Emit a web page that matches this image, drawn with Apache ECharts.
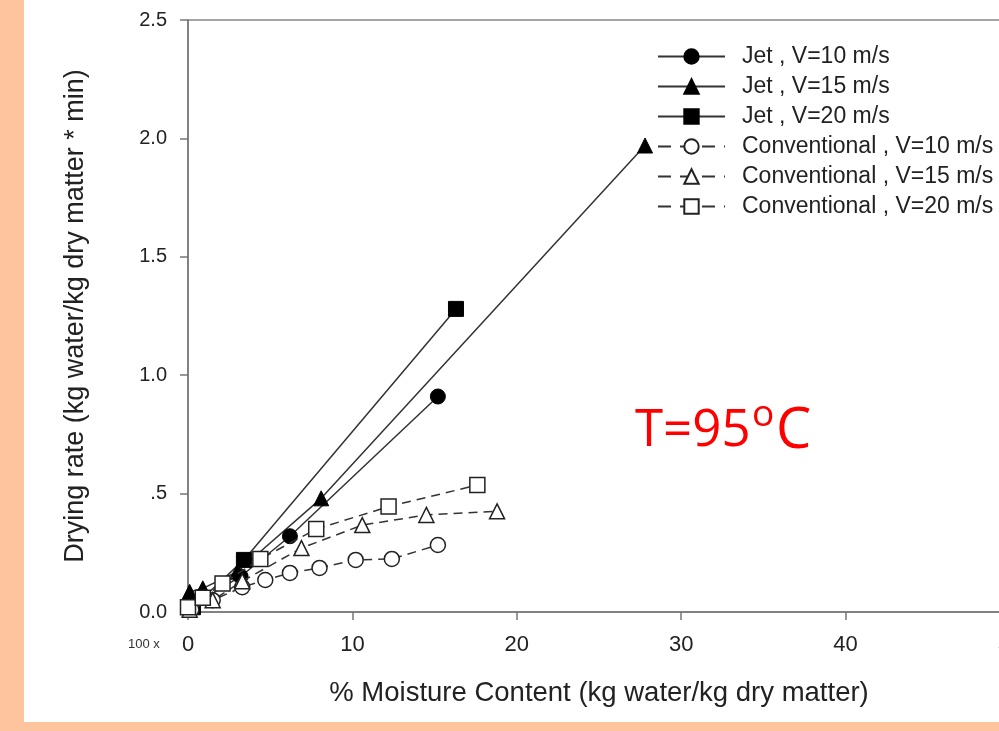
<!DOCTYPE html>
<html>
<head>
<meta charset="utf-8">
<script src="https://cdn.jsdelivr.net/npm/echarts@6/dist/echarts.min.js"></script>
<style>
html,body{margin:0;padding:0;background:#FDC49D;}
#main{width:999px;height:731px;}
</style>
</head>
<body>
<div id="main"></div>
<script>
// ---- data (x: % moisture content, y: drying rate) ----
var seriesNames = [
  'Jet , V=10 m/s',
  'Jet , V=15 m/s',
  'Jet , V=20 m/s',
  'Conventional , V=10 m/s',
  'Conventional , V=15 m/s',
  'Conventional , V=20 m/s'
];
var jet10 = [[0.1, 0.02], [3.2, 0.15], [6.2, 0.32], [15.2, 0.91]];
var jet15 = [[0.1, 0.085], [0.9, 0.10], [3.0, 0.17], [8.1, 0.48], [27.8, 1.97]];
var jet20 = [[0.3, 0.02], [3.4, 0.22], [16.3, 1.28]];
var conv10 = [[0.2, 0.01], [1.5, 0.05], [3.3, 0.105], [4.7, 0.135], [6.2, 0.165], [8.0, 0.186], [10.2, 0.22], [12.4, 0.224], [15.2, 0.283]];
var conv15 = [[0.1, 0.01], [1.5, 0.05], [3.3, 0.13], [6.9, 0.27], [10.6, 0.367], [14.5, 0.41], [18.8, 0.425]];
var conv20 = [[0.0, 0.02], [0.9, 0.06], [2.1, 0.12], [4.4, 0.224], [7.8, 0.35], [12.2, 0.445], [17.6, 0.536]];
var yTickLabels = ['0.0', '.5', '1.0', '1.5', '2.0', '2.5'];
var xTickLabels = ['0', '10', '20', '30', '40', '50'];

var chart = echarts.init(document.getElementById('main'), null, {renderer: 'canvas'});
var font = 'Liberation Sans, Arial, sans-serif';
var lineColor = '#333';

function jetSeries(name, data, symbol) {
  return {
    name: name, type: 'line', data: data, symbol: symbol, symbolSize: 15,
    showAllSymbol: true,
    lineStyle: {color: lineColor, width: 1.5, type: 'solid'},
    itemStyle: {color: '#000', borderColor: '#000', borderWidth: 1},
    z: 3
  };
}
function convSeries(name, data, symbol) {
  return {
    name: name, type: 'line', data: data, symbol: symbol, symbolSize: 15,
    showAllSymbol: true,
    lineStyle: {color: lineColor, width: 1.5, type: [9, 6]},
    itemStyle: {color: '#fff', borderColor: '#222', borderWidth: 1.5},
    z: 4
  };
}

var legendData = seriesNames.map(function (n, i) {
  return i < 3 ? {name: n} : {name: n, lineStyle: {type: [13, 9]}};
});

var option = {
  animation: false,
  backgroundColor: '#FDC49D',
  textStyle: {fontFamily: font},
  graphic: [
    {type: 'rect', shape: {x: 24, y: 0, width: 975, height: 722}, style: {fill: '#fff'}, z: -10, silent: true},
    {type: 'text', x: 128, y: 638, style: {text: '100 x', font: '13px ' + font, fill: '#333'}, z: 10},
    {type: 'text', x: 635, y: 406, style: {text: 'T=95', font: '51px "Open Sans", sans-serif', fill: '#FF0000'}, z: 10},
    {type: 'text', x: 752, y: 397, style: {text: 'o', font: '37px "Open Sans", sans-serif', fill: '#FF0000'}, z: 10},
    {type: 'text', x: 776, y: 404, style: {text: 'C', font: '56px "Open Sans", sans-serif', fill: '#FF0000'}, z: 10}
  ],
  grid: {
    left: 188, top: 20, width: 822, height: 592,
    outerBoundsMode: 'none', containLabel: false,
    show: true, borderColor: '#888', borderWidth: 1.5, backgroundColor: 'transparent'
  },
  legend: {
    orient: 'vertical', left: 657, top: 45, padding: 0,
    itemWidth: 67, itemHeight: 18, itemGap: 7,
    data: legendData,
    textStyle: {fontSize: 23, color: '#222', fontFamily: font, padding: [0, 0, 0, 12]}
  },
  xAxis: {
    type: 'value', min: 0, max: 50, interval: 10,
    name: '% Moisture Content (kg water/kg dry matter)',
    nameLocation: 'middle', nameGap: 67,
    nameTextStyle: {fontSize: 27.5, color: '#222', fontFamily: font},
    axisLine: {show: true, lineStyle: {color: '#777', width: 1.5}},
    axisTick: {show: true, inside: false, length: 8, lineStyle: {color: '#777', width: 1.5}},
    axisLabel: {margin: 22, fontSize: 22, color: '#222', fontFamily: font, showMaxLabel: true,
      formatter: function (v) { return xTickLabels[Math.round(v / 10)]; }},
    splitLine: {show: false}
  },
  yAxis: {
    type: 'value', min: 0, max: 2.5, interval: 0.5,
    name: 'Drying rate (kg water/kg dry matter * min)',
    nameLocation: 'middle', nameGap: 99,
    nameTextStyle: {fontSize: 27, color: '#222', fontFamily: font},
    axisLine: {show: true, lineStyle: {color: '#777', width: 1.5}},
    axisTick: {show: true, inside: false, length: 8, lineStyle: {color: '#777', width: 1.5}},
    axisLabel: {margin: 21, fontSize: 20, color: '#222', fontFamily: font,
      formatter: function (v) { return yTickLabels[Math.round(v / 0.5)]; }},
    splitLine: {show: false}
  },
  series: [
    jetSeries(seriesNames[0], jet10, 'circle'),
    jetSeries(seriesNames[1], jet15, 'triangle'),
    jetSeries(seriesNames[2], jet20, 'rect'),
    convSeries(seriesNames[3], conv10, 'circle'),
    convSeries(seriesNames[4], conv15, 'triangle'),
    convSeries(seriesNames[5], conv20, 'rect')
  ]
};
chart.setOption(option);
</script>
</body>
</html>
